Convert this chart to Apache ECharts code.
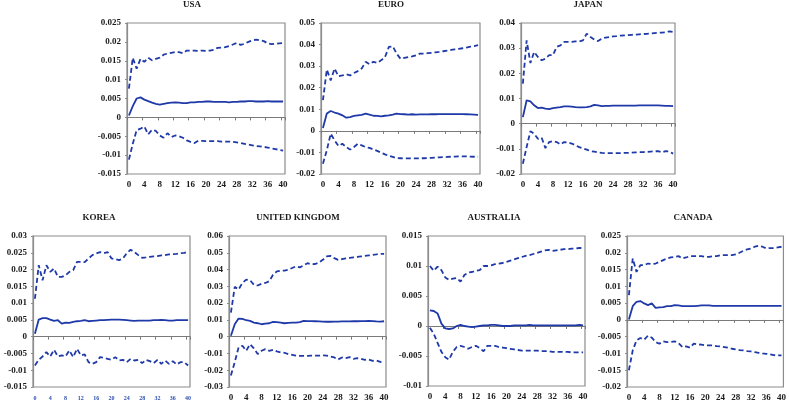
<!DOCTYPE html>
<html><head><meta charset="utf-8">
<script src="https://cdn.jsdelivr.net/npm/echarts@6/dist/echarts.min.js"></script>
<style>html,body{margin:0;padding:0;background:#fff}#c{width:789px;height:402px}</style>
</head><body><div id="c"></div>
<script>
const horizons = [0,1,2,3,4,5,6,7,8,9,10,11,12,13,14,15,16,17,18,19,20,21,22,23,24,25,26,27,28,29,30,31,32,33,34,35,36,37,38,39,40];
const panelNames = ['USA','EURO','JAPAN','KOREA','UNITED KINGDOM','AUSTRALIA','CANADA'];
const yMins = [-0.015,-0.02,-0.02,-0.015,-0.03,-0.01,-0.02];
const yMaxs = [0.025,0.05,0.04,0.03,0.06,0.015,0.025];
const yIntervals = [0.005,0.01,0.01,0.005,0.01,0.005,0.005];

const usaUpper = [0.0076,0.0158,0.0129,0.0155,0.0147,0.0158,0.0151,0.0155,0.0158,0.0166,
 0.0169,0.0171,0.0173,0.0173,0.0170,0.0177,0.0177,0.0177,0.0176,0.0177,
 0.0176,0.0177,0.0179,0.0184,0.0185,0.0186,0.0189,0.0193,0.0197,0.0192,
 0.0195,0.0200,0.0204,0.0206,0.0204,0.0202,0.0196,0.0194,0.0195,0.0196,
 0.0197];
const usaIrf = [0.0005,0.0030,0.0050,0.0053,0.0047,0.0043,0.0039,0.0036,0.0034,0.0036,
 0.0038,0.0039,0.0040,0.0039,0.0038,0.0038,0.0040,0.0040,0.0041,0.0041,
 0.0042,0.0042,0.0041,0.0041,0.0041,0.0041,0.0040,0.0041,0.0041,0.0042,
 0.0042,0.0043,0.0043,0.0042,0.0042,0.0042,0.0043,0.0042,0.0042,0.0042,
 0.0042];
const usaLower = [-0.0112,-0.0070,-0.0034,-0.0030,-0.0024,-0.0045,-0.0033,-0.0036,-0.0048,-0.0054,
 -0.0042,-0.0052,-0.0048,-0.0050,-0.0054,-0.0061,-0.0065,-0.0068,-0.0062,-0.0062,
 -0.0063,-0.0063,-0.0063,-0.0063,-0.0064,-0.0064,-0.0064,-0.0065,-0.0066,-0.0068,
 -0.0070,-0.0072,-0.0074,-0.0076,-0.0077,-0.0078,-0.0080,-0.0082,-0.0084,-0.0086,
 -0.0088];

const euroUpper = [0.0142,0.0284,0.0234,0.0289,0.0253,0.0257,0.0262,0.0257,0.0268,0.0277,
 0.0289,0.0320,0.0309,0.0320,0.0315,0.0327,0.0342,0.0389,0.0392,0.0358,
 0.0334,0.0338,0.0342,0.0345,0.0350,0.0358,0.0358,0.0360,0.0362,0.0364,
 0.0366,0.0369,0.0372,0.0375,0.0378,0.0380,0.0383,0.0386,0.0390,0.0393,
 0.0397];
const euroIrf = [0.0013,0.0080,0.0092,0.0085,0.0080,0.0072,0.0061,0.0064,0.0069,0.0072,
 0.0074,0.0080,0.0075,0.0070,0.0069,0.0067,0.0070,0.0072,0.0075,0.0080,
 0.0078,0.0077,0.0075,0.0077,0.0075,0.0076,0.0076,0.0076,0.0077,0.0077,
 0.0078,0.0078,0.0078,0.0078,0.0078,0.0078,0.0078,0.0077,0.0076,0.0075,
 0.0074];
const euroLower = [-0.0152,-0.0090,-0.0013,-0.0044,-0.0070,-0.0060,-0.0075,-0.0087,-0.0075,-0.0060,
 -0.0067,-0.0075,-0.0079,-0.0086,-0.0093,-0.0101,-0.0109,-0.0116,-0.0121,-0.0126,
 -0.0127,-0.0128,-0.0128,-0.0128,-0.0128,-0.0127,-0.0127,-0.0126,-0.0125,-0.0124,
 -0.0123,-0.0122,-0.0121,-0.0120,-0.0119,-0.0118,-0.0118,-0.0118,-0.0119,-0.0120,
 -0.0120];

const japanUpper = [0.0159,0.0331,0.0241,0.0285,0.0265,0.0252,0.0258,0.0272,0.0272,0.0305,
 0.0311,0.0325,0.0325,0.0325,0.0327,0.0327,0.0331,0.0358,0.0344,0.0334,
 0.0328,0.0338,0.0342,0.0344,0.0347,0.0348,0.0350,0.0351,0.0352,0.0353,
 0.0354,0.0355,0.0356,0.0357,0.0358,0.0360,0.0361,0.0362,0.0363,0.0367,
 0.0364];
const japanIrf = [0.0026,0.0093,0.0089,0.0073,0.0062,0.0064,0.0060,0.0058,0.0062,0.0064,
 0.0066,0.0069,0.0069,0.0068,0.0066,0.0065,0.0065,0.0066,0.0069,0.0075,
 0.0073,0.0070,0.0071,0.0071,0.0072,0.0072,0.0072,0.0072,0.0072,0.0072,
 0.0072,0.0073,0.0073,0.0073,0.0073,0.0073,0.0073,0.0072,0.0071,0.0071,
 0.0070];
const japanLower = [-0.0159,-0.0093,-0.0030,-0.0040,-0.0060,-0.0056,-0.0097,-0.0073,-0.0069,-0.0073,
 -0.0082,-0.0073,-0.0075,-0.0079,-0.0086,-0.0093,-0.0098,-0.0103,-0.0109,-0.0111,
 -0.0114,-0.0116,-0.0117,-0.0117,-0.0117,-0.0117,-0.0117,-0.0116,-0.0116,-0.0115,
 -0.0114,-0.0113,-0.0113,-0.0112,-0.0111,-0.0110,-0.0109,-0.0114,-0.0109,-0.0111,
 -0.0119];

const koreaUpper = [0.0113,0.0213,0.0168,0.0213,0.0193,0.0203,0.0178,0.0178,0.0183,0.0193,
 0.0198,0.0223,0.0223,0.0222,0.0233,0.0243,0.0248,0.0252,0.0249,0.0252,
 0.0233,0.0231,0.0228,0.0233,0.0249,0.0259,0.0252,0.0243,0.0235,0.0236,
 0.0238,0.0239,0.0240,0.0242,0.0243,0.0245,0.0246,0.0247,0.0249,0.0250,
 0.0252];
const koreaIrf = [0.0009,0.0051,0.0055,0.0055,0.0051,0.0047,0.0049,0.0039,0.0042,0.0041,
 0.0044,0.0046,0.0047,0.0049,0.0046,0.0047,0.0048,0.0049,0.0049,0.0050,
 0.0051,0.0051,0.0051,0.0050,0.0049,0.0048,0.0047,0.0048,0.0048,0.0048,
 0.0048,0.0049,0.0049,0.0050,0.0049,0.0048,0.0048,0.0049,0.0049,0.0049,
 0.0049];
const koreaLower = [-0.0086,-0.0069,-0.0059,-0.0046,-0.0059,-0.0039,-0.0059,-0.0056,-0.0059,-0.0041,
 -0.0061,-0.0036,-0.0056,-0.0053,-0.0076,-0.0081,-0.0076,-0.0061,-0.0063,-0.0066,
 -0.0069,-0.0061,-0.0071,-0.0069,-0.0076,-0.0066,-0.0071,-0.0069,-0.0079,-0.0069,
 -0.0073,-0.0079,-0.0069,-0.0081,-0.0071,-0.0081,-0.0073,-0.0083,-0.0076,-0.0076,
 -0.0086];

const ukUpper = [0.0143,0.0297,0.0281,0.0320,0.0340,0.0336,0.0310,0.0305,0.0315,0.0320,
 0.0330,0.0369,0.0389,0.0393,0.0394,0.0399,0.0409,0.0419,0.0413,0.0425,
 0.0438,0.0432,0.0433,0.0442,0.0458,0.0478,0.0482,0.0468,0.0458,0.0462,
 0.0466,0.0469,0.0472,0.0475,0.0478,0.0481,0.0484,0.0487,0.0490,0.0494,
 0.0494];
const ukIrf = [0.0005,0.0074,0.0108,0.0106,0.0098,0.0094,0.0084,0.0080,0.0074,0.0078,
 0.0080,0.0088,0.0087,0.0084,0.0080,0.0082,0.0084,0.0084,0.0087,0.0094,
 0.0093,0.0093,0.0092,0.0091,0.0090,0.0089,0.0089,0.0090,0.0090,0.0091,
 0.0091,0.0091,0.0092,0.0092,0.0093,0.0093,0.0094,0.0093,0.0091,0.0090,
 0.0092];
const ukLower = [-0.0231,-0.0152,-0.0064,-0.0054,-0.0084,-0.0045,-0.0070,-0.0104,-0.0084,-0.0074,
 -0.0084,-0.0078,-0.0088,-0.0094,-0.0096,-0.0104,-0.0108,-0.0113,-0.0114,-0.0114,
 -0.0114,-0.0113,-0.0113,-0.0113,-0.0112,-0.0113,-0.0118,-0.0124,-0.0136,-0.0124,
 -0.0128,-0.0122,-0.0132,-0.0128,-0.0132,-0.0138,-0.0136,-0.0144,-0.0142,-0.0150,
 -0.0158];

const ausUpper = [0.0100,0.0092,0.0099,0.0093,0.0081,0.0077,0.0079,0.0080,0.0074,0.0085,
 0.0089,0.0090,0.0092,0.0093,0.0100,0.0100,0.0101,0.0103,0.0104,0.0105,
 0.0107,0.0109,0.0111,0.0113,0.0115,0.0117,0.0118,0.0120,0.0122,0.0124,
 0.0126,0.0127,0.0125,0.0126,0.0127,0.0128,0.0128,0.0129,0.0129,0.0130,
 0.0130];
const ausIrf = [0.0026,0.0025,0.0021,0.0004,-0.0004,-0.0005,-0.0004,0.0000,0.0002,0.0000,
 -0.0001,-0.0002,-0.0001,0.0000,0.0001,0.0001,0.0002,0.0002,0.0001,0.0000,
 0.0000,0.0000,0.0001,0.0001,0.0001,0.0001,0.0002,0.0001,0.0001,0.0001,
 0.0001,0.0001,0.0001,0.0001,0.0001,0.0001,0.0001,0.0001,0.0001,0.0002,
 0.0001];
const ausLower = [-0.0003,-0.0013,-0.0028,-0.0043,-0.0052,-0.0056,-0.0043,-0.0035,-0.0033,-0.0035,
 -0.0038,-0.0035,-0.0033,-0.0037,-0.0042,-0.0033,-0.0033,-0.0033,-0.0035,-0.0036,
 -0.0037,-0.0038,-0.0039,-0.0040,-0.0041,-0.0041,-0.0041,-0.0041,-0.0041,-0.0042,
 -0.0042,-0.0042,-0.0043,-0.0043,-0.0043,-0.0043,-0.0043,-0.0044,-0.0044,-0.0044,
 -0.0044];

const canUpper = [0.0074,0.0183,0.0143,0.0163,0.0163,0.0168,0.0166,0.0168,0.0173,0.0178,
 0.0183,0.0186,0.0188,0.0190,0.0183,0.0186,0.0190,0.0190,0.0190,0.0190,
 0.0188,0.0188,0.0190,0.0190,0.0193,0.0193,0.0193,0.0193,0.0195,0.0200,
 0.0206,0.0210,0.0213,0.0218,0.0221,0.0218,0.0213,0.0214,0.0214,0.0216,
 0.0218];
const canIrf = [0.0001,0.0041,0.0054,0.0056,0.0049,0.0044,0.0049,0.0036,0.0037,0.0038,
 0.0041,0.0041,0.0044,0.0043,0.0041,0.0041,0.0041,0.0041,0.0042,0.0043,
 0.0043,0.0043,0.0042,0.0042,0.0042,0.0042,0.0042,0.0042,0.0042,0.0042,
 0.0042,0.0042,0.0042,0.0042,0.0042,0.0042,0.0042,0.0042,0.0042,0.0042,
 0.0042];
const canLower = [-0.0150,-0.0091,-0.0061,-0.0054,-0.0059,-0.0047,-0.0053,-0.0066,-0.0071,-0.0064,
 -0.0066,-0.0066,-0.0064,-0.0069,-0.0081,-0.0079,-0.0083,-0.0071,-0.0073,-0.0074,
 -0.0076,-0.0076,-0.0076,-0.0078,-0.0079,-0.0081,-0.0083,-0.0086,-0.0088,-0.0090,
 -0.0091,-0.0093,-0.0094,-0.0096,-0.0098,-0.0100,-0.0101,-0.0103,-0.0105,-0.0106,
 -0.0106];

const uppers = [usaUpper, euroUpper, japanUpper, koreaUpper, ukUpper, ausUpper, canUpper];
const irfs = [usaIrf, euroIrf, japanIrf, koreaIrf, ukIrf, ausIrf, canIrf];
const lowers = [usaLower, euroLower, japanLower, koreaLower, ukLower, ausLower, canLower];

// layout (pixels)
const grids = [
  {left:127, top:23, width:158, height:151},
  {left:321, top:23, width:159, height:151},
  {left:521, top:23, width:154, height:151},
  {left:33,  top:236, width:157, height:151},
  {left:229, top:236, width:157, height:152},
  {left:428, top:236, width:157, height:150},
  {left:627, top:236, width:158, height:151}
];
const titlePos = [[192,5],[391,5],[588,5],[99,218],[298,218],[494,218],[693,218]];

const FONT = '"Liberation Serif", "Times New Roman", serif';
const LINE = '#1f3aa8';
const GREY = '#8c8c8c';

const option = {
  animation:false,
  backgroundColor:'#fff',
  grid:[], xAxis:[], yAxis:[], series:[], graphic:[]
};

panelNames.forEach((name,i)=>{
  const g = grids[i];
  option.grid.push(Object.assign({show:true, borderColor:GREY, borderWidth:1.2, containLabel:false}, g));
  const isKorea = name === 'KOREA';
  // label axis at bottom
  option.xAxis.push({
    type:'category', gridIndex:i, data:horizons, boundaryGap:true,
    axisLine:{show:false, onZero:false}, axisTick:{show:false},
    axisLabel:{interval:3, margin: isKorea?8:6, color: isKorea?'#2d4fb0':'#1a1a1a',
      fontFamily:FONT, fontWeight:'bold', fontSize: isKorea?6:9},
    splitLine:{show:false}
  });
  // zero line axis
  option.xAxis.push({
    type:'category', gridIndex:i, data:horizons, boundaryGap:true, position:'bottom',
    axisLine:{show:true, onZero:true, lineStyle:{color:'#7a7a7a', width:1}},
    axisTick:{show:true, interval:3, length:3, lineStyle:{color:'#7a7a7a'}},
    axisLabel:{show:false}, splitLine:{show:false}
  });
  option.yAxis.push({
    type:'value', gridIndex:i, min:yMins[i], max:yMaxs[i], interval:yIntervals[i],
    axisLine:{show:true, onZero:false, lineStyle:{color:GREY, width:1.2}},
    axisTick:{show:true, length:2, lineStyle:{color:GREY}},
    axisLabel:{margin:6, color:'#1a1a1a', fontFamily:FONT, fontWeight:'bold', fontSize:9,
      formatter:(v)=> String(+v.toFixed(4))},
    splitLine:{show:false}
  });
  const mk = (data, dashed)=>({
    type:'line', xAxisIndex:2*i, yAxisIndex:i, data:data, symbol:'none', silent:true,
    lineStyle:{color:LINE, width:1.8, type: dashed?[5,3]:'solid'}, z:3
  });
  option.series.push(mk(uppers[i], true), mk(irfs[i], false), mk(lowers[i], true));
  option.graphic.push({
    type:'text', x:titlePos[i][0], y:titlePos[i][1],
    style:{text:name, fill:'#1a1a1a', font:'bold 9px '+FONT, textAlign:'center', textVerticalAlign:'middle'}
  });
});

const chart = echarts.init(document.getElementById('c'), null, {renderer:'canvas'});
chart.setOption(option);
</script>
</body></html>
